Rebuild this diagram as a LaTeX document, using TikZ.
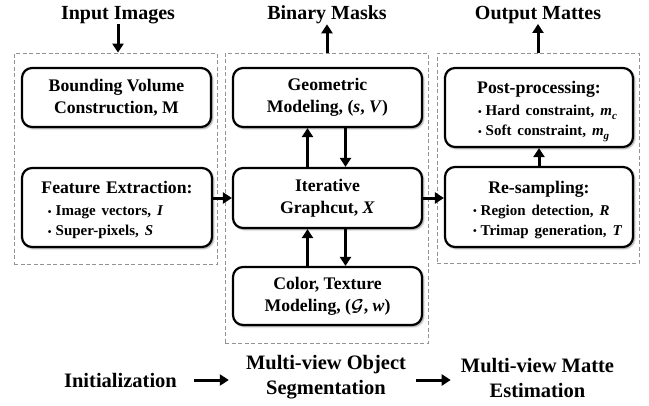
\documentclass[tikz,border=0pt]{standalone}
\usepackage{fontspec}
\setmainfont{Liberation Serif}
\usetikzlibrary{arrows.meta,shadows.blur}
\newcommand{\bt}{{\fontsize{10.5}{10}\selectfont\raisebox{0.5pt}{•}}\hspace{4pt}}
\newcommand{\bxfont}{\fontsize{17.7}{22}\selectfont\bfseries}
\newcommand{\blfont}{\fontsize{15}{20}\selectfont\bfseries}
\newcommand{\subit}[1]{\raisebox{-3.5pt}{\fontsize{11}{11}\selectfont\itshape #1}}
% title, inset, bullet 1, bullet 2
\newcommand{\blist}[4]{\makebox[\linewidth]{\rule{0pt}{20pt}#1}\\[0pt]\hspace*{#2}{\blfont\begin{tabular}[t]{@{}l@{}}\bt #3\\ \bt #4\end{tabular}}}
\begin{document}
\begin{tikzpicture}[x=1pt,y=-1pt,
  box/.style={draw, line width=2.2pt, rounded corners=10pt, fill=white,
    blur shadow={shadow xshift=1.5pt, shadow yshift=-1.5pt, shadow blur steps=6, shadow opacity=45},
    align=center, font=\bxfont, inner sep=0pt},
  lbox/.style={box, align=left, text width=#1},
  grp/.style={draw=gray!85, dash pattern=on 4pt off 2.5pt, line width=0.8pt, inner sep=0pt},
  arr/.style={line width=3pt, -{Triangle[length=9pt,width=11pt]}},
  head/.style={font=\fontsize{20}{24}\selectfont\bfseries, inner sep=0pt},
  foot/.style={font=\fontsize{20.5}{25}\selectfont\bfseries, inner sep=0pt, align=center}]
\useasboundingbox (0,0) rectangle (649,405);
% groups
\node[grp, minimum width=203pt, minimum height=211pt] (grpL) at (115.5,158.5) {};
\node[grp, minimum width=203pt, minimum height=290pt] (grpM) at (326.5,198) {};
\node[grp, minimum width=202pt, minimum height=210pt] (grpR) at (538,158) {};
% headings
\node[head] (inp) at (118,15) {Input Images};
\node[head] (bin) at (327,15) {Binary Masks};
\node[head] (out) at (538,15) {Output Mattes};
% boxes
\node[box, minimum width=189pt, minimum height=59pt] (bvc) at (116.5,97.5) {Bounding Volume\\Construction, M};
\node[lbox=190pt, minimum height=79pt] (fe) at (117,207.5)
  {\blist{Feature Extraction:}{26pt}{Image vectors, \textit{I}}{Super-pixels, \textit{S}}};
\node[box, minimum width=189pt, minimum height=59pt] (geo) at (327.5,97.5) {Geometric\\Modeling, (\textit{s}, \textit{V})};
\node[box, minimum width=189pt, minimum height=60pt] (itg) at (327.5,198) {Iterative\\Graphcut, \textit{X}};
\node[box, minimum width=189pt, minimum height=58pt] (ctm) at (327.5,296) {Color, Texture\\Modeling, ({\boldmath$\mathcal{G}$}, \textit{w})};
\node[lbox=188pt, minimum height=79pt] (pp) at (539,107.5)
  {\blist{Post-processing:}{33pt}{Hard constraint, \textit{m}\subit{c}}{Soft constraint, \textit{m}\subit{g}}};
\node[lbox=188pt, minimum height=80pt] (rs) at (539,207)
  {\blist{Re-sampling:}{28pt}{Region detection, \textit{R}}{Trimap generation, \textit{T}}};
% bottom
\node[foot] (ini) at (120.5,380) {Initialization};
\node[foot] (mos) at (326,377.5) {Multi-view Object\\Segmentation};
\node[foot] (mme) at (537.5,377.5) {Multi-view Matte\\Estimation};
% connectors
\draw[arr] (inp.south) -- (inp.south |- grpL.north);
\draw[arr] (bin.south |- grpM.north) -- (bin.south);
\draw[arr] (out.south |- grpR.north) -- (out.south);
\draw[arr] (fe.east |- itg.west) -- (itg.west);
\draw[arr] (itg.east) -- (rs.west |- itg.east);
\draw[arr] ([xshift=-20pt]itg.north) -- ([xshift=-20pt]geo.south);
\draw[arr] ([xshift=18pt]geo.south) -- ([xshift=18pt]itg.north);
\draw[arr] ([xshift=-20pt]ctm.north) -- ([xshift=-20pt]itg.south);
\draw[arr] ([xshift=18pt]itg.south) -- ([xshift=18pt]ctm.north);
\draw[arr] (rs.north) -- (pp.south);
\draw[arr] ([xshift=17pt]ini.east) -- ([xshift=-17pt]mos.west |- ini.east);
\draw[arr] ([xshift=10pt]mos.east |- ini.east) -- ([xshift=-10pt]mme.west |- ini.east);
\end{tikzpicture}
\end{document}
